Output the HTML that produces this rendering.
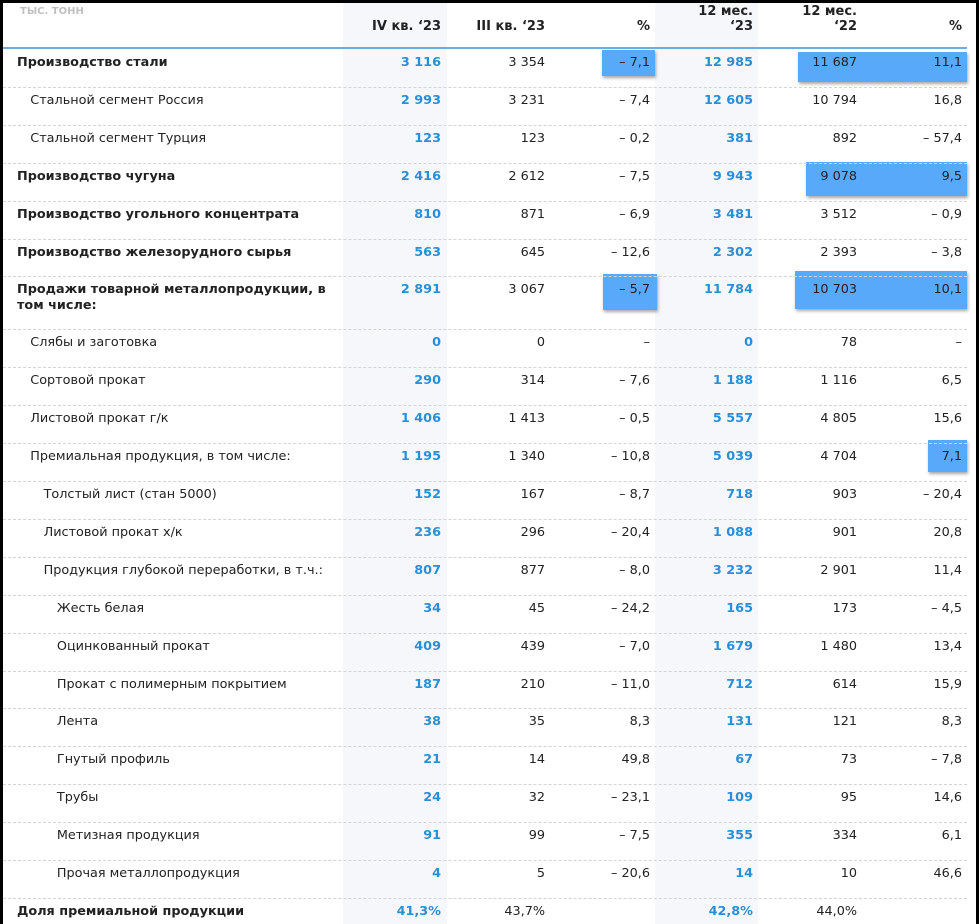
<!DOCTYPE html>
<html><head><meta charset="utf-8">
<style>
html,body{margin:0;padding:0;background:#000;}
#page{position:absolute;left:3px;top:3px;width:973px;height:921px;background:#fff;overflow:hidden;font-family:"DejaVu Sans","Liberation Sans",sans-serif;font-size:12.8px;color:#222;}
.shade{position:absolute;background:#f5f7fb;}
.cell{position:absolute;white-space:nowrap;line-height:16px;}
.num{text-align:right;}
.blue{color:#2a8fd6;font-weight:bold;}
.b{font-weight:bold;}
.sep{position:absolute;left:0;width:964px;border-top:1px dashed #d4d4d4;height:0;}
.hl{position:absolute;background:#59a9fb;box-shadow:1px 2px 3px rgba(0,0,0,0.35);}
.hdr{position:absolute;font-weight:bold;text-align:right;line-height:15px;font-size:13px;}
</style></head>
<body>
<div id="page">
<div class="shade" style="left:340px;top:0;width:104px;height:921px"></div>
<div class="shade" style="left:652px;top:0;width:103px;height:921px"></div>
<div class="cell" style="left:17px;top:1px;font-size:10px;color:#c0c0c0;font-weight:bold;">ТЫС. ТОНН</div>
<div class="hdr" style="right:535px;top:16px">IV кв. ‘23</div>
<div class="hdr" style="right:431px;top:16px">III кв. ‘23</div>
<div class="hdr" style="right:326px;top:16px">%</div>
<div class="hdr" style="right:223px;top:1px">12 мес.<br>‘23</div>
<div class="hdr" style="right:119px;top:1px">12 мес.<br>‘22</div>
<div class="hdr" style="right:14px;top:16px">%</div>
<div style="position:absolute;left:0;top:44px;width:964px;height:2px;background:#6aaedd"></div>
<div class="hl" style="left:599px;top:47px;width:53px;height:26px"></div>
<div class="hl" style="left:795px;top:49px;width:169px;height:30px"></div>
<div class="hl" style="left:803px;top:159px;width:161px;height:34px"></div>
<div class="hl" style="left:600px;top:271px;width:54px;height:36px"></div>
<div class="hl" style="left:792px;top:268px;width:172px;height:38px"></div>
<div class="hl" style="left:925px;top:437px;width:39px;height:32px"></div>
<div id="rows"></div>
</div>
<script>
const labels=["Производство стали","Стальной сегмент Россия","Стальной сегмент Турция","Производство чугуна","Производство угольного концентрата","Производство железорудного сырья","Продажи товарной металлопродукции, в<br>том числе:","Слябы и заготовка","Сортовой прокат","Листовой прокат г/к","Премиальная продукция, в том числе:","Толстый лист (стан 5000)","Листовой прокат х/к","Продукция глубокой переработки, в т.ч.:","Жесть белая","Оцинкованный прокат","Прокат с полимерным покрытием","Лента","Гнутый профиль","Трубы","Метизная продукция","Прочая металлопродукция","Доля премиальной продукции"];
const levels=[0,1,1,0,0,0,0,1,1,1,1,2,2,2,3,3,3,3,3,3,3,3,0];
const q4=["3 116","2 993","123","2 416","810","563","2 891","0","290","1 406","1 195","152","236","807","34","409","187","38","21","24","91","4","41,3%"];
const q3=["3 354","3 231","123","2 612","871","645","3 067","0","314","1 413","1 340","167","296","877","45","439","210","35","14","32","99","5","43,7%"];
const pctQ=["– 7,1","– 7,4","– 0,2","– 7,5","– 6,9","– 12,6","– 5,7","–","– 7,6","– 0,5","– 10,8","– 8,7","– 20,4","– 8,0","– 24,2","– 7,0","– 11,0","8,3","49,8","– 23,1","– 7,5","– 20,6",""];
const y23=["12 985","12 605","381","9 943","3 481","2 302","11 784","0","1 188","5 557","5 039","718","1 088","3 232","165","1 679","712","131","67","109","355","14","42,8%"];
const y22=["11 687","10 794","892","9 078","3 512","2 393","10 703","78","1 116","4 805","4 704","903","901","2 901","173","1 480","614","121","73","95","334","10","44,0%"];
const pctY=["11,1","16,8","– 57,4","9,5","– 0,9","– 3,8","10,1","–","6,5","15,6","7,1","– 20,4","20,8","11,4","– 4,5","13,4","15,9","8,3","– 7,8","14,6","6,1","46,6",""];
const colRight=[438,542,647,750,854,959];
const root=document.getElementById('rows');
let yPos=46;
for(let i=0;i<labels.length;i++){
  const h=(i===6)?53:37.9;
  const bold=levels[i]===0;
  const lab=document.createElement('div');
  lab.className='cell'+(bold?' b':'');
  lab.style.left=(14+levels[i]*13.3)+'px';
  lab.style.top=(yPos+6)+'px';
  lab.innerHTML=labels[i];
  
  
  root.appendChild(lab);
  const vals=[q4[i],q3[i],pctQ[i],y23[i],y22[i],pctY[i]];
  for(let c=0;c<6;c++){
    const d=document.createElement('div');
    d.className='cell num'+((c===0||c===3)?' blue':'');
    d.style.right=(973-colRight[c])+'px';
    d.style.top=(yPos+6)+'px';
    d.textContent=vals[c];
    
    
    root.appendChild(d);
  }
  yPos+=h;
  if(i<labels.length-1){
    const s=document.createElement('div');
    s.className='sep';
    s.style.top=yPos+'px';
    
    
    root.appendChild(s);
  }
}
</script>
</body></html>
